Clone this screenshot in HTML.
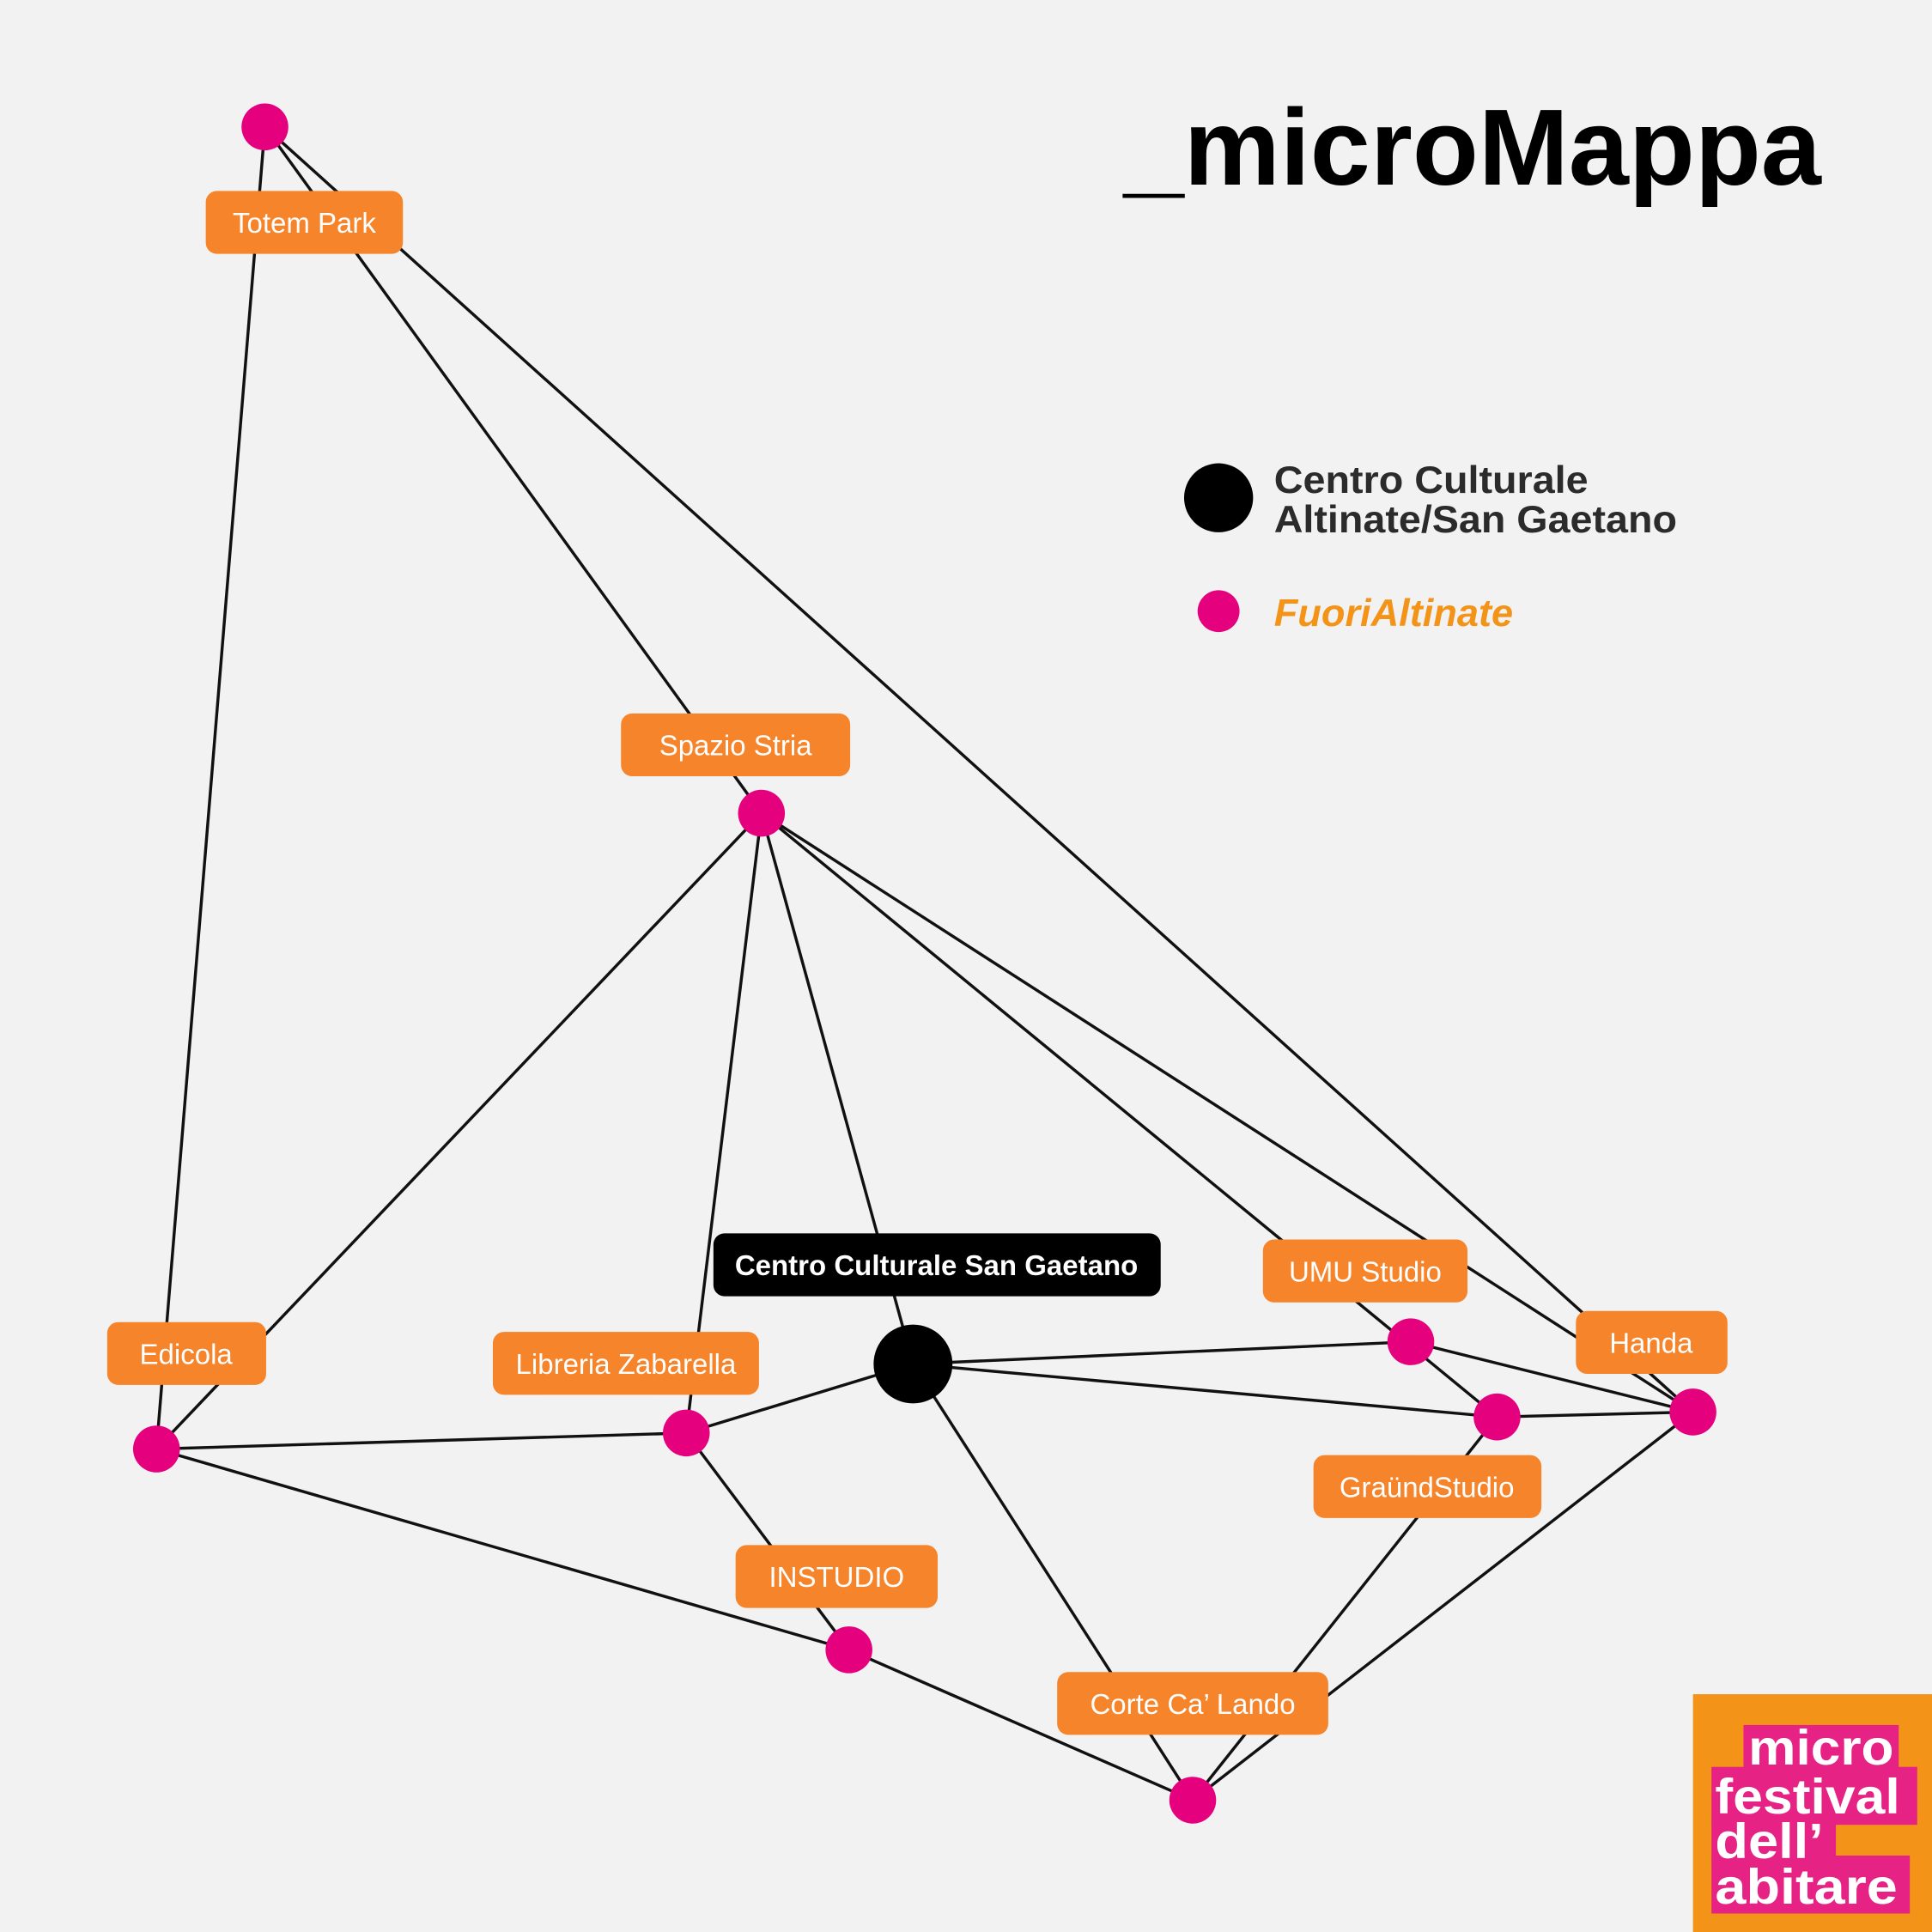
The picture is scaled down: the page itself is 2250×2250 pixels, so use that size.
<!DOCTYPE html>
<html><head><meta charset="utf-8"><style>
html,body{margin:0;padding:0;background:#f2f2f2;}
svg{display:block;}
text{font-family:"Liberation Sans",Arial,sans-serif;}
</style></head><body>
<svg width="2250" height="2250" viewBox="0 0 1568 1568" xmlns="http://www.w3.org/2000/svg">
<rect width="1568" height="1568" fill="#f2f2f2"/>
<g stroke="#111" stroke-width="2.4" fill="none">
<line x1="215" y1="103" x2="127" y2="1176"/>
<line x1="215" y1="103" x2="618" y2="660"/>
<line x1="215" y1="103" x2="1374" y2="1146"/>
<line x1="618" y1="660" x2="127" y2="1176"/>
<line x1="618" y1="660" x2="557" y2="1163"/>
<line x1="618" y1="660" x2="741" y2="1107"/>
<line x1="618" y1="660" x2="1215" y2="1150"/>
<line x1="618" y1="660" x2="1374" y2="1146"/>
<line x1="741" y1="1107" x2="1145" y2="1089"/>
<line x1="741" y1="1107" x2="1215" y2="1150"/>
<line x1="741" y1="1107" x2="557" y2="1163"/>
<line x1="741" y1="1107" x2="968" y2="1461"/>
<line x1="1145" y1="1089" x2="1374" y2="1146"/>
<line x1="1215" y1="1150" x2="1374" y2="1146"/>
<line x1="1215" y1="1150" x2="968" y2="1461"/>
<line x1="1374" y1="1146" x2="968" y2="1461"/>
<line x1="127" y1="1176" x2="557" y2="1163"/>
<line x1="127" y1="1176" x2="689" y2="1339"/>
<line x1="689" y1="1339" x2="968" y2="1461"/>
<line x1="557" y1="1163" x2="689" y2="1339"/>
</g>
<g fill="#e5007e">
<circle cx="215" cy="103" r="19"/>
<circle cx="618" cy="660" r="19"/>
<circle cx="127" cy="1176" r="19"/>
<circle cx="557" cy="1163" r="19"/>
<circle cx="1145" cy="1089" r="19"/>
<circle cx="1215" cy="1150" r="19"/>
<circle cx="1374" cy="1146" r="19"/>
<circle cx="689" cy="1339" r="19"/>
<circle cx="968" cy="1461" r="19"/>
</g>
<circle cx="741" cy="1107" r="32" fill="#000"/>
<g fill="#f5842b">
<rect x="167" y="155" width="160" height="51" rx="9"/>
<rect x="504" y="579" width="186" height="51" rx="9"/>
<rect x="87" y="1073" width="129" height="51" rx="9"/>
<rect x="400" y="1081" width="216" height="51" rx="9"/>
<rect x="1025" y="1006" width="166" height="51" rx="9"/>
<rect x="1279" y="1064" width="123" height="51" rx="9"/>
<rect x="1066" y="1181" width="185" height="51" rx="9"/>
<rect x="597" y="1254" width="164" height="51" rx="9"/>
<rect x="858" y="1357" width="220" height="51" rx="9"/>
</g>
<rect x="579" y="1001" width="363" height="51" rx="9" fill="#000"/>
<g fill="#fff" font-size="23" text-anchor="middle">
<text x="247" y="189">Totem Park</text>
<text x="597" y="613">Spazio Stria</text>
<text x="151" y="1107">Edicola</text>
<text x="508" y="1115">Libreria Zabarella</text>
<text x="1108" y="1040">UMU Studio</text>
<text x="1340" y="1098">Handa</text>
<text x="1158" y="1215">GraündStudio</text>
<text x="679" y="1288">INSTUDIO</text>
<text x="968" y="1391">Corte Ca’ Lando</text>
<text x="760" y="1035" font-weight="bold">Centro Culturale San Gaetano</text>
</g>
<text x="912" y="150" font-size="88" font-weight="bold" fill="#000" textLength="566" lengthAdjust="spacingAndGlyphs">_microMappa</text>
<circle cx="989" cy="404" r="28" fill="#000"/>
<text x="1034" y="400" font-size="31" font-weight="bold" fill="#2b2b2b" textLength="255" lengthAdjust="spacingAndGlyphs">Centro Culturale</text>
<text x="1034" y="432" font-size="31" font-weight="bold" fill="#2b2b2b" textLength="327" lengthAdjust="spacingAndGlyphs">Altinate/San Gaetano</text>
<circle cx="989" cy="496" r="17" fill="#e5007e"/>
<text x="1034" y="508" font-size="31" font-weight="bold" font-style="italic" fill="#f39419" textLength="194" lengthAdjust="spacingAndGlyphs">FuoriAltinate</text>
<rect x="1374" y="1375" width="194" height="193" fill="#f39419"/>
<g fill="#e62284">
<rect x="1415" y="1400" width="126" height="35"/>
<rect x="1389" y="1434" width="167" height="47"/>
<rect x="1389" y="1480" width="101" height="27"/>
<rect x="1389" y="1506" width="161" height="47"/>
</g>
<g fill="#fff" font-weight="bold" font-size="40">
<text x="1419" y="1432" textLength="118" lengthAdjust="spacingAndGlyphs">micro</text>
<text x="1392" y="1472" textLength="150" lengthAdjust="spacingAndGlyphs">festival</text>
<text x="1392" y="1508" textLength="88" lengthAdjust="spacingAndGlyphs">dell’</text>
<text x="1392" y="1545" textLength="148" lengthAdjust="spacingAndGlyphs">abitare</text>
</g>
</svg>
</body></html>
